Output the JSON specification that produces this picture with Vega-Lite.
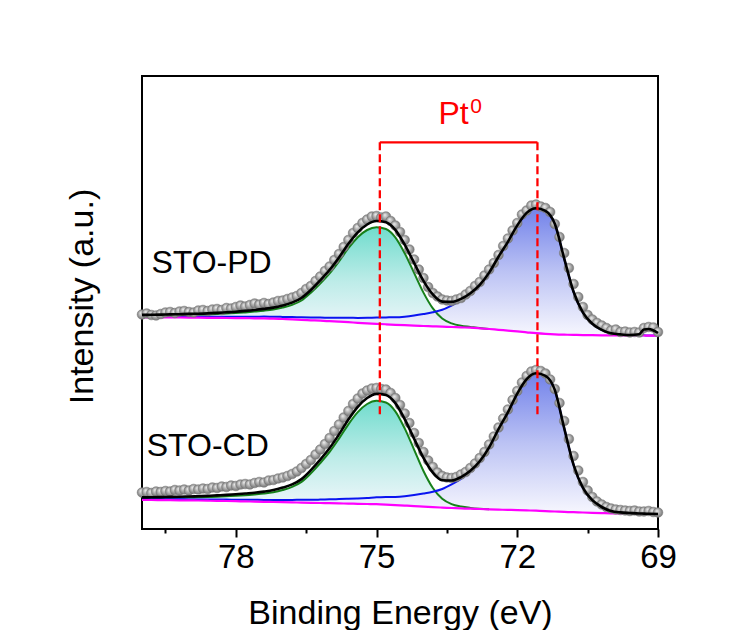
{
"$schema":"https://vega.github.io/schema/vega-lite/v6.json",
"width":516,"height":453,
"autosize":"none",
"padding":{"left":142,"top":76,"right":94,"bottom":101},
"background":"white",
"config":{
 "font":"Liberation Sans",
 "view":{"stroke":"#000000","strokeWidth":2},
 "axis":{"grid":false},
 "axisY":{"labels":false,"ticks":false,"domain":false,"grid":false,"titleFontSize":34,"titleFontWeight":"normal","titleColor":"#000000","titleX":-50,"titleY":220,"titleBaseline":"alphabetic","titleAngle":270}
},
"datasets":{
"curves":[
{"E":80.0,"s":"PD","bg":211.7,"gr":213.4,"bl":212.3,"fit":214.1},
{"E":79.8,"s":"PD","bg":211.7,"gr":213.5,"bl":212.4,"fit":214.2},
{"E":79.6,"s":"PD","bg":211.6,"gr":213.6,"bl":212.4,"fit":214.4},
{"E":79.4,"s":"PD","bg":211.6,"gr":213.8,"bl":212.4,"fit":214.6},
{"E":79.2,"s":"PD","bg":211.5,"gr":213.9,"bl":212.4,"fit":214.8},
{"E":79.0,"s":"PD","bg":211.4,"gr":214.1,"bl":212.3,"fit":215.1},
{"E":78.8,"s":"PD","bg":211.3,"gr":214.3,"bl":212.3,"fit":215.3},
{"E":78.6,"s":"PD","bg":211.2,"gr":214.6,"bl":212.3,"fit":215.6},
{"E":78.4,"s":"PD","bg":211.1,"gr":215.0,"bl":212.2,"fit":216.1},
{"E":78.2,"s":"PD","bg":211.0,"gr":215.5,"bl":212.3,"fit":216.7},
{"E":78.0,"s":"PD","bg":210.9,"gr":215.9,"bl":212.3,"fit":217.3},
{"E":77.8,"s":"PD","bg":210.8,"gr":216.6,"bl":212.3,"fit":218.1},
{"E":77.6,"s":"PD","bg":210.7,"gr":217.4,"bl":212.3,"fit":219.0},
{"E":77.4,"s":"PD","bg":210.6,"gr":218.3,"bl":212.4,"fit":220.1},
{"E":77.2,"s":"PD","bg":210.3,"gr":219.5,"bl":212.2,"fit":221.4},
{"E":77.0,"s":"PD","bg":210.0,"gr":221.4,"bl":212.1,"fit":223.5},
{"E":76.8,"s":"PD","bg":209.6,"gr":224.1,"bl":211.9,"fit":226.4},
{"E":76.6,"s":"PD","bg":209.2,"gr":228.5,"bl":211.7,"fit":231.0},
{"E":76.4,"s":"PD","bg":208.7,"gr":236.3,"bl":211.5,"fit":239.0},
{"E":76.2,"s":"PD","bg":208.3,"gr":245.5,"bl":211.4,"fit":248.7},
{"E":76.0,"s":"PD","bg":207.8,"gr":255.7,"bl":211.3,"fit":259.2},
{"E":75.8,"s":"PD","bg":207.3,"gr":267.7,"bl":211.2,"fit":271.6},
{"E":75.6,"s":"PD","bg":206.8,"gr":280.8,"bl":211.2,"fit":285.2},
{"E":75.4,"s":"PD","bg":206.2,"gr":291.8,"bl":211.1,"fit":296.7},
{"E":75.2,"s":"PD","bg":205.7,"gr":299.0,"bl":211.2,"fit":304.5},
{"E":75.0,"s":"PD","bg":205.2,"gr":301.7,"bl":211.5,"fit":308.0},
{"E":74.8,"s":"PD","bg":204.7,"gr":300.0,"bl":211.6,"fit":306.8},
{"E":74.6,"s":"PD","bg":204.2,"gr":291.7,"bl":211.7,"fit":299.2},
{"E":74.4,"s":"PD","bg":203.8,"gr":275.8,"bl":212.3,"fit":284.3},
{"E":74.2,"s":"PD","bg":203.4,"gr":256.1,"bl":213.4,"fit":266.1},
{"E":74.0,"s":"PD","bg":203.0,"gr":236.4,"bl":214.9,"fit":248.2},
{"E":73.8,"s":"PD","bg":202.7,"gr":220.6,"bl":216.7,"fit":234.6},
{"E":73.6,"s":"PD","bg":202.3,"gr":210.5,"bl":219.2,"fit":227.4},
{"E":73.4,"s":"PD","bg":202.0,"gr":205.6,"bl":223.5,"fit":227.1},
{"E":73.2,"s":"PD","bg":201.6,"gr":203.2,"bl":228.5,"fit":230.1},
{"E":73.0,"s":"PD","bg":201.3,"gr":202.1,"bl":235.1,"fit":235.8},
{"E":72.8,"s":"PD","bg":200.7,"gr":201.0,"bl":243.8,"fit":244.1},
{"E":72.6,"s":"PD","bg":200.0,"gr":200.1,"bl":256.3,"fit":256.4},
{"E":72.4,"s":"PD","bg":199.2,"gr":199.2,"bl":272.3,"fit":272.3},
{"E":72.2,"s":"PD","bg":198.4,"gr":198.4,"bl":287.2,"fit":287.2},
{"E":72.0,"s":"PD","bg":197.6,"gr":197.6,"bl":303.6,"fit":303.6},
{"E":71.8,"s":"PD","bg":196.7,"gr":196.7,"bl":316.1,"fit":316.1},
{"E":71.6,"s":"PD","bg":195.8,"gr":195.8,"bl":320.8,"fit":320.8},
{"E":71.4,"s":"PD","bg":195.1,"gr":195.1,"bl":318.2,"fit":318.2},
{"E":71.2,"s":"PD","bg":194.6,"gr":194.6,"bl":305.2,"fit":305.2},
{"E":71.0,"s":"PD","bg":194.3,"gr":194.3,"bl":270.6,"fit":270.6},
{"E":70.8,"s":"PD","bg":194.1,"gr":194.1,"bl":237.2,"fit":237.2},
{"E":70.6,"s":"PD","bg":193.9,"gr":193.9,"bl":216.4,"fit":216.4},
{"E":70.4,"s":"PD","bg":193.8,"gr":193.8,"bl":205.3,"fit":205.3},
{"E":70.2,"s":"PD","bg":193.7,"gr":193.7,"bl":199.2,"fit":199.2},
{"E":70.0,"s":"PD","bg":193.6,"gr":193.6,"bl":195.7,"fit":195.7},
{"E":69.8,"s":"PD","bg":193.6,"gr":193.6,"bl":194.6,"fit":194.6},
{"E":69.6,"s":"PD","bg":193.5,"gr":193.5,"bl":194.0,"fit":194.0},
{"E":69.4,"s":"PD","bg":193.5,"gr":193.5,"bl":193.8,"fit":194.8},
{"E":69.3,"s":"PD","bg":193.5,"gr":193.5,"bl":193.7,"fit":199.5},
{"E":69.2,"s":"PD","bg":193.4,"gr":193.4,"bl":193.5,"fit":200.0},
{"E":69.0,"s":"PD","bg":193.4,"gr":193.4,"bl":193.4,"fit":196.0},
{"E":80.0,"s":"CD","bg":29.0,"gr":30.9,"bl":29.7,"fit":31.6},
{"E":79.8,"s":"CD","bg":29.0,"gr":31.0,"bl":29.8,"fit":31.7},
{"E":79.6,"s":"CD","bg":28.9,"gr":31.1,"bl":29.7,"fit":31.9},
{"E":79.4,"s":"CD","bg":28.8,"gr":31.2,"bl":29.7,"fit":32.1},
{"E":79.2,"s":"CD","bg":28.7,"gr":31.3,"bl":29.7,"fit":32.3},
{"E":79.0,"s":"CD","bg":28.6,"gr":31.5,"bl":29.6,"fit":32.5},
{"E":78.8,"s":"CD","bg":28.5,"gr":31.7,"bl":29.6,"fit":32.8},
{"E":78.6,"s":"CD","bg":28.3,"gr":31.9,"bl":29.5,"fit":33.1},
{"E":78.4,"s":"CD","bg":28.2,"gr":32.3,"bl":29.4,"fit":33.6},
{"E":78.2,"s":"CD","bg":28.0,"gr":32.8,"bl":29.4,"fit":34.1},
{"E":78.0,"s":"CD","bg":27.8,"gr":33.2,"bl":29.3,"fit":34.7},
{"E":77.8,"s":"CD","bg":27.6,"gr":33.8,"bl":29.3,"fit":35.5},
{"E":77.6,"s":"CD","bg":27.4,"gr":34.6,"bl":29.2,"fit":36.3},
{"E":77.4,"s":"CD","bg":27.2,"gr":35.5,"bl":29.1,"fit":37.4},
{"E":77.2,"s":"CD","bg":27.0,"gr":36.8,"bl":29.1,"fit":38.9},
{"E":77.0,"s":"CD","bg":26.8,"gr":39.0,"bl":29.1,"fit":41.4},
{"E":76.8,"s":"CD","bg":26.6,"gr":42.1,"bl":29.1,"fit":44.6},
{"E":76.6,"s":"CD","bg":26.4,"gr":47.1,"bl":29.2,"fit":49.9},
{"E":76.4,"s":"CD","bg":26.2,"gr":55.7,"bl":29.2,"fit":58.8},
{"E":76.2,"s":"CD","bg":26.0,"gr":65.9,"bl":29.4,"fit":69.3},
{"E":76.0,"s":"CD","bg":25.8,"gr":77.1,"bl":29.7,"fit":80.9},
{"E":75.8,"s":"CD","bg":25.6,"gr":90.4,"bl":29.9,"fit":94.6},
{"E":75.6,"s":"CD","bg":25.4,"gr":104.7,"bl":30.2,"fit":109.5},
{"E":75.4,"s":"CD","bg":25.2,"gr":116.9,"bl":30.6,"fit":122.2},
{"E":75.2,"s":"CD","bg":25.0,"gr":125.0,"bl":31.1,"fit":131.0},
{"E":75.0,"s":"CD","bg":24.8,"gr":128.2,"bl":31.7,"fit":135.1},
{"E":74.8,"s":"CD","bg":24.4,"gr":126.5,"bl":32.0,"fit":134.0},
{"E":74.6,"s":"CD","bg":23.9,"gr":117.7,"bl":32.1,"fit":125.9},
{"E":74.4,"s":"CD","bg":23.4,"gr":100.6,"bl":32.7,"fit":109.9},
{"E":74.2,"s":"CD","bg":22.9,"gr":79.4,"bl":33.9,"fit":90.4},
{"E":74.0,"s":"CD","bg":22.3,"gr":58.0,"bl":35.4,"fit":71.1},
{"E":73.8,"s":"CD","bg":21.8,"gr":41.0,"bl":37.2,"fit":56.4},
{"E":73.6,"s":"CD","bg":21.4,"gr":30.2,"bl":40.0,"fit":48.8},
{"E":73.4,"s":"CD","bg":21.0,"gr":24.8,"bl":44.6,"fit":48.5},
{"E":73.2,"s":"CD","bg":20.6,"gr":22.4,"bl":50.1,"fit":51.9},
{"E":73.0,"s":"CD","bg":20.3,"gr":21.1,"bl":57.4,"fit":58.2},
{"E":72.8,"s":"CD","bg":20.0,"gr":20.3,"bl":67.4,"fit":67.7},
{"E":72.6,"s":"CD","bg":19.7,"gr":19.8,"bl":81.5,"fit":81.6},
{"E":72.4,"s":"CD","bg":19.4,"gr":19.4,"bl":99.8,"fit":99.8},
{"E":72.2,"s":"CD","bg":19.1,"gr":19.1,"bl":116.7,"fit":116.7},
{"E":72.0,"s":"CD","bg":18.9,"gr":18.9,"bl":135.4,"fit":135.4},
{"E":71.8,"s":"CD","bg":18.6,"gr":18.6,"bl":149.8,"fit":149.8},
{"E":71.6,"s":"CD","bg":18.3,"gr":18.3,"bl":155.7,"fit":155.7},
{"E":71.4,"s":"CD","bg":17.9,"gr":17.9,"bl":153.2,"fit":153.2},
{"E":71.2,"s":"CD","bg":17.5,"gr":17.5,"bl":139.1,"fit":139.1},
{"E":71.0,"s":"CD","bg":17.1,"gr":17.1,"bl":100.9,"fit":100.9},
{"E":70.8,"s":"CD","bg":16.8,"gr":16.8,"bl":64.2,"fit":64.2},
{"E":70.6,"s":"CD","bg":16.5,"gr":16.5,"bl":41.2,"fit":41.2},
{"E":70.4,"s":"CD","bg":16.2,"gr":16.2,"bl":28.8,"fit":28.8},
{"E":70.2,"s":"CD","bg":15.9,"gr":15.9,"bl":22.0,"fit":22.0},
{"E":70.0,"s":"CD","bg":15.7,"gr":15.7,"bl":18.0,"fit":18.0},
{"E":69.8,"s":"CD","bg":15.5,"gr":15.5,"bl":16.6,"fit":16.6},
{"E":69.6,"s":"CD","bg":15.4,"gr":15.4,"bl":16.0,"fit":16.0},
{"E":69.4,"s":"CD","bg":15.2,"gr":15.2,"bl":15.5,"fit":15.5},
{"E":69.3,"s":"CD","bg":15.2,"gr":15.2,"bl":15.4,"fit":15.4},
{"E":69.2,"s":"CD","bg":15.1,"gr":15.1,"bl":15.2,"fit":15.2},
{"E":69.0,"s":"CD","bg":15.0,"gr":15.0,"bl":15.0,"fit":15.0}
],
"dots":[
{"E":80.0,"s":"PD","v":214.5},{"E":79.9,"s":"PD","v":215.5},{"E":79.8,"s":"PD","v":214.0},{"E":79.7,"s":"PD","v":213.5},{"E":79.6,"s":"PD","v":215.0},{"E":79.5,"s":"PD","v":216.5},{"E":79.4,"s":"PD","v":217.0},{"E":79.3,"s":"PD","v":216.0},{"E":79.2,"s":"PD","v":217.5},{"E":79.1,"s":"PD","v":218.0},
{"E":79.0,"s":"PD","v":217.0},{"E":78.9,"s":"PD","v":216.5},{"E":78.8,"s":"PD","v":218.5},{"E":78.7,"s":"PD","v":219.0},{"E":78.6,"s":"PD","v":218.0},{"E":78.5,"s":"PD","v":219.5},{"E":78.4,"s":"PD","v":220.0},{"E":78.3,"s":"PD","v":219.0},{"E":78.2,"s":"PD","v":221.0},{"E":78.1,"s":"PD","v":220.5},
{"E":78.0,"s":"PD","v":222.0},{"E":77.9,"s":"PD","v":223.5},{"E":77.8,"s":"PD","v":222.5},{"E":77.7,"s":"PD","v":224.0},{"E":77.6,"s":"PD","v":225.5},{"E":77.5,"s":"PD","v":224.5},{"E":77.4,"s":"PD","v":226.0},{"E":77.3,"s":"PD","v":225.0},{"E":77.2,"s":"PD","v":226.5},{"E":77.1,"s":"PD","v":228.0},
{"E":77.0,"s":"PD","v":228.5},{"E":76.9,"s":"PD","v":230.0},{"E":76.8,"s":"PD","v":231.5},{"E":76.7,"s":"PD","v":233.0},{"E":76.6,"s":"PD","v":236.0},{"E":76.5,"s":"PD","v":240.0},{"E":76.4,"s":"PD","v":243.0},{"E":76.3,"s":"PD","v":248.0},{"E":76.2,"s":"PD","v":252.5},{"E":76.1,"s":"PD","v":258.0},
{"E":76.0,"s":"PD","v":262.5},{"E":75.9,"s":"PD","v":269.0},{"E":75.8,"s":"PD","v":275.0},{"E":75.7,"s":"PD","v":282.0},{"E":75.6,"s":"PD","v":289.0},{"E":75.5,"s":"PD","v":296.0},{"E":75.4,"s":"PD","v":301.0},{"E":75.3,"s":"PD","v":306.0},{"E":75.2,"s":"PD","v":309.5},{"E":75.1,"s":"PD","v":312.5},
{"E":75.0,"s":"PD","v":313.0},{"E":74.9,"s":"PD","v":311.5},{"E":74.8,"s":"PD","v":312.5},{"E":74.7,"s":"PD","v":308.0},{"E":74.6,"s":"PD","v":303.5},{"E":74.5,"s":"PD","v":297.0},{"E":74.4,"s":"PD","v":289.0},{"E":74.3,"s":"PD","v":279.5},{"E":74.2,"s":"PD","v":269.5},{"E":74.1,"s":"PD","v":259.5},
{"E":74.0,"s":"PD","v":251.0},{"E":73.9,"s":"PD","v":242.0},{"E":73.8,"s":"PD","v":236.0},{"E":73.7,"s":"PD","v":232.5},{"E":73.6,"s":"PD","v":229.5},{"E":73.5,"s":"PD","v":228.5},{"E":73.4,"s":"PD","v":228.0},{"E":73.3,"s":"PD","v":229.5},{"E":73.2,"s":"PD","v":231.0},{"E":73.1,"s":"PD","v":234.5},
{"E":73.0,"s":"PD","v":238.0},{"E":72.9,"s":"PD","v":243.0},{"E":72.8,"s":"PD","v":247.0},{"E":72.7,"s":"PD","v":253.5},{"E":72.6,"s":"PD","v":259.5},{"E":72.5,"s":"PD","v":266.0},{"E":72.4,"s":"PD","v":274.0},{"E":72.3,"s":"PD","v":283.0},{"E":72.2,"s":"PD","v":290.5},{"E":72.1,"s":"PD","v":298.5},
{"E":72.0,"s":"PD","v":306.0},{"E":71.9,"s":"PD","v":314.5},{"E":71.8,"s":"PD","v":318.5},{"E":71.7,"s":"PD","v":323.5},{"E":71.6,"s":"PD","v":324.5},{"E":71.5,"s":"PD","v":322.5},{"E":71.4,"s":"PD","v":321.0},{"E":71.3,"s":"PD","v":317.0},{"E":71.2,"s":"PD","v":305.0},{"E":71.1,"s":"PD","v":292.0},
{"E":71.0,"s":"PD","v":276.0},{"E":70.9,"s":"PD","v":261.0},{"E":70.8,"s":"PD","v":245.0},{"E":70.7,"s":"PD","v":232.0},{"E":70.6,"s":"PD","v":222.0},{"E":70.5,"s":"PD","v":214.0},{"E":70.4,"s":"PD","v":209.5},{"E":70.3,"s":"PD","v":206.0},{"E":70.2,"s":"PD","v":203.5},{"E":70.1,"s":"PD","v":201.0},
{"E":70.0,"s":"PD","v":198.5},{"E":69.9,"s":"PD","v":199.5},{"E":69.8,"s":"PD","v":197.0},{"E":69.7,"s":"PD","v":197.5},{"E":69.6,"s":"PD","v":196.5},{"E":69.5,"s":"PD","v":197.0},{"E":69.4,"s":"PD","v":196.5},{"E":69.3,"s":"PD","v":201.0},{"E":69.2,"s":"PD","v":202.0},{"E":69.1,"s":"PD","v":201.5},{"E":69.0,"s":"PD","v":197.0},
{"E":80.0,"s":"CD","v":36.5},{"E":79.9,"s":"CD","v":37.0},{"E":79.8,"s":"CD","v":36.0},{"E":79.7,"s":"CD","v":37.5},{"E":79.6,"s":"CD","v":37.0},{"E":79.5,"s":"CD","v":38.0},{"E":79.4,"s":"CD","v":37.5},{"E":79.3,"s":"CD","v":39.0},{"E":79.2,"s":"CD","v":38.5},{"E":79.1,"s":"CD","v":39.5},
{"E":79.0,"s":"CD","v":38.5},{"E":78.9,"s":"CD","v":40.0},{"E":78.8,"s":"CD","v":39.5},{"E":78.7,"s":"CD","v":40.5},{"E":78.6,"s":"CD","v":40.0},{"E":78.5,"s":"CD","v":41.5},{"E":78.4,"s":"CD","v":41.0},{"E":78.3,"s":"CD","v":42.5},{"E":78.2,"s":"CD","v":42.0},{"E":78.1,"s":"CD","v":43.5},
{"E":78.0,"s":"CD","v":43.0},{"E":77.9,"s":"CD","v":44.5},{"E":77.8,"s":"CD","v":45.0},{"E":77.7,"s":"CD","v":44.5},{"E":77.6,"s":"CD","v":46.0},{"E":77.5,"s":"CD","v":47.0},{"E":77.4,"s":"CD","v":46.5},{"E":77.3,"s":"CD","v":48.5},{"E":77.2,"s":"CD","v":49.0},{"E":77.1,"s":"CD","v":50.5},
{"E":77.0,"s":"CD","v":51.5},{"E":76.9,"s":"CD","v":53.0},{"E":76.8,"s":"CD","v":55.0},{"E":76.7,"s":"CD","v":57.5},{"E":76.6,"s":"CD","v":61.0},{"E":76.5,"s":"CD","v":65.0},{"E":76.4,"s":"CD","v":69.0},{"E":76.3,"s":"CD","v":74.5},{"E":76.2,"s":"CD","v":79.5},{"E":76.1,"s":"CD","v":85.0},
{"E":76.0,"s":"CD","v":91.0},{"E":75.9,"s":"CD","v":98.0},{"E":75.8,"s":"CD","v":104.5},{"E":75.7,"s":"CD","v":111.5},{"E":75.6,"s":"CD","v":118.0},{"E":75.5,"s":"CD","v":125.0},{"E":75.4,"s":"CD","v":130.5},{"E":75.3,"s":"CD","v":135.5},{"E":75.2,"s":"CD","v":138.5},{"E":75.1,"s":"CD","v":140.5},
{"E":75.0,"s":"CD","v":141.0},{"E":74.9,"s":"CD","v":140.0},{"E":74.8,"s":"CD","v":139.5},{"E":74.7,"s":"CD","v":136.0},{"E":74.6,"s":"CD","v":131.0},{"E":74.5,"s":"CD","v":124.0},{"E":74.4,"s":"CD","v":115.5},{"E":74.3,"s":"CD","v":106.0},{"E":74.2,"s":"CD","v":96.0},{"E":74.1,"s":"CD","v":86.0},
{"E":74.0,"s":"CD","v":77.0},{"E":73.9,"s":"CD","v":68.5},{"E":73.8,"s":"CD","v":62.0},{"E":73.7,"s":"CD","v":56.5},{"E":73.6,"s":"CD","v":53.0},{"E":73.5,"s":"CD","v":51.5},{"E":73.4,"s":"CD","v":51.0},{"E":73.3,"s":"CD","v":52.0},{"E":73.2,"s":"CD","v":54.5},{"E":73.1,"s":"CD","v":57.0},
{"E":73.0,"s":"CD","v":61.0},{"E":72.9,"s":"CD","v":65.5},{"E":72.8,"s":"CD","v":71.0},{"E":72.7,"s":"CD","v":77.0},{"E":72.6,"s":"CD","v":84.5},{"E":72.5,"s":"CD","v":92.5},{"E":72.4,"s":"CD","v":101.5},{"E":72.3,"s":"CD","v":110.5},{"E":72.2,"s":"CD","v":119.5},{"E":72.1,"s":"CD","v":129.0},
{"E":72.0,"s":"CD","v":138.0},{"E":71.9,"s":"CD","v":146.5},{"E":71.8,"s":"CD","v":153.0},{"E":71.7,"s":"CD","v":157.5},{"E":71.6,"s":"CD","v":159.0},{"E":71.5,"s":"CD","v":158.0},{"E":71.4,"s":"CD","v":155.5},{"E":71.3,"s":"CD","v":149.5},{"E":71.2,"s":"CD","v":140.0},{"E":71.1,"s":"CD","v":126.0},
{"E":71.0,"s":"CD","v":108.0},{"E":70.9,"s":"CD","v":90.0},{"E":70.8,"s":"CD","v":73.0},{"E":70.7,"s":"CD","v":58.5},{"E":70.6,"s":"CD","v":47.0},{"E":70.5,"s":"CD","v":38.5},{"E":70.4,"s":"CD","v":32.0},{"E":70.3,"s":"CD","v":27.5},{"E":70.2,"s":"CD","v":24.5},{"E":70.1,"s":"CD","v":22.0},
{"E":70.0,"s":"CD","v":20.5},{"E":69.9,"s":"CD","v":19.5},{"E":69.8,"s":"CD","v":19.0},{"E":69.7,"s":"CD","v":18.5},{"E":69.6,"s":"CD","v":18.0},{"E":69.5,"s":"CD","v":18.5},{"E":69.4,"s":"CD","v":17.5},{"E":69.3,"s":"CD","v":17.5},{"E":69.2,"s":"CD","v":18.0},{"E":69.1,"s":"CD","v":17.0},{"E":69.0,"s":"CD","v":16.5}
],
"bracket":[{"E":74.93,"E2":71.57,"v":386.7}],
"drops":[{"E":74.93,"v":386.7,"v2":112.3},{"E":71.57,"v":386.7,"v2":112.3}],
"names":[{"E":79.8,"v":256,"t":"STO-PD"},{"E":79.9,"v":73,"t":"STO-CD"}],
"pt":[{"E":73.68,"v":404.7,"t":"Pt"}],
"sup":[{"E":73.0,"v":416.5,"t":"0"}]
},
"encoding":{
 "x":{"field":"E","type":"quantitative","title":"Binding Energy (eV)",
  "scale":{"domain":[69,80],"reverse":true,"nice":false,"zero":false},
  "axis":{"values":[69,70.5,72,73.5,75,76.5,78,79.5],
   "labelExpr":"datum.value % 3 === 0 ? datum.label : ''",
   "tickSize":{"condition":{"test":"datum.value % 3 === 0","value":8},"value":4},
   "tickWidth":2,"tickColor":"#000000","domain":false,"grid":false,
   "labelFontSize":33,"labelColor":"#000000","labelPadding":4,"labelFlush":false,"labelOverlap":false,
   "titleFontSize":34,"titleFontWeight":"normal","titleColor":"#000000","titleY":94,"titleBaseline":"alphabetic"}}
},
"layer":[
 {"data":{"name":"curves"},
  "mark":{"type":"area","orient":"vertical","interpolate":"monotone",
   "color":{"gradient":"linear","x1":0,"y1":0,"x2":0,"y2":1,"stops":[{"offset":0,"color":"#70dccd"},{"offset":0.5,"color":"#bdece8"},{"offset":1,"color":"#f5f8fd"}]}},
  "encoding":{"y":{"field":"gr","type":"quantitative","title":"Intensity (a.u.)","scale":{"domain":[0,453],"nice":false,"zero":false}},
   "y2":{"field":"bg"},"detail":{"field":"s"}}},
 {"data":{"name":"curves"},
  "mark":{"type":"area","orient":"vertical","interpolate":"monotone",
   "color":{"gradient":"linear","x1":0,"y1":0,"x2":0,"y2":1,"stops":[{"offset":0,"color":"#7282ea"},{"offset":0.5,"color":"#bcc3f4"},{"offset":1,"color":"#f7f7fe"}]}},
  "encoding":{"y":{"field":"bl","type":"quantitative","title":"Intensity (a.u.)"},
   "y2":{"field":"bg"},"detail":{"field":"s"}}},
 {"data":{"name":"curves"},
  "transform":[{"filter":"datum.E >= 72.6"}],
  "mark":{"type":"line","interpolate":"monotone","color":"#17801a","strokeWidth":2},
  "encoding":{"y":{"field":"gr","type":"quantitative","title":"Intensity (a.u.)"},"detail":{"field":"s"}}},
 {"data":{"name":"curves"},
  "mark":{"type":"line","interpolate":"monotone","color":"#0a14f0","strokeWidth":2},
  "encoding":{"y":{"field":"bl","type":"quantitative","title":"Intensity (a.u.)"},"detail":{"field":"s"}}},
 {"data":{"name":"curves"},
  "mark":{"type":"line","interpolate":"monotone","color":"#ff00ff","strokeWidth":2.2},
  "encoding":{"y":{"field":"bg","type":"quantitative","title":"Intensity (a.u.)"},"detail":{"field":"s"}}},
 {"data":{"name":"dots"},
  "mark":{"type":"point","filled":true,"size":95,"opacity":1,"stroke":"#777777","strokeWidth":0.5,
   "fill":{"gradient":"radial","x1":0.38,"y1":0.32,"r1":0,"x2":0.5,"y2":0.5,"r2":0.55,"stops":[{"offset":0,"color":"#f2f2f2"},{"offset":0.55,"color":"#a6a6a6"},{"offset":1,"color":"#6c6c6c"}]}},
  "encoding":{"y":{"field":"v","type":"quantitative","title":"Intensity (a.u.)"}}},
 {"data":{"name":"curves"},
  "mark":{"type":"line","interpolate":"monotone","color":"#000000","strokeWidth":2.6},
  "encoding":{"y":{"field":"fit","type":"quantitative","title":"Intensity (a.u.)"},"detail":{"field":"s"}}},
 {"data":{"name":"drops"},
  "mark":{"type":"rule","color":"#ff0000","strokeWidth":2.3,"strokeDash":[8,4]},
  "encoding":{"y":{"field":"v","type":"quantitative","title":"Intensity (a.u.)"},"y2":{"field":"v2"}}},
 {"data":{"name":"bracket"},
  "mark":{"type":"rule","color":"#ff0000","strokeWidth":2.3},
  "encoding":{"x2":{"field":"E2"},"y":{"field":"v","type":"quantitative","title":"Intensity (a.u.)"}}},
 {"data":{"name":"names"},
  "mark":{"type":"text","align":"left","baseline":"alphabetic","fontSize":32,"color":"#000000"},
  "encoding":{"y":{"field":"v","type":"quantitative","title":"Intensity (a.u.)"},"text":{"field":"t"}}},
 {"data":{"name":"pt"},
  "mark":{"type":"text","align":"left","baseline":"alphabetic","fontSize":32,"color":"#ff0000"},
  "encoding":{"y":{"field":"v","type":"quantitative","title":"Intensity (a.u.)"},"text":{"field":"t"}}},
 {"data":{"name":"sup"},
  "mark":{"type":"text","align":"left","baseline":"alphabetic","fontSize":21,"color":"#ff0000"},
  "encoding":{"y":{"field":"v","type":"quantitative","title":"Intensity (a.u.)"},"text":{"field":"t"}}}
]
}
